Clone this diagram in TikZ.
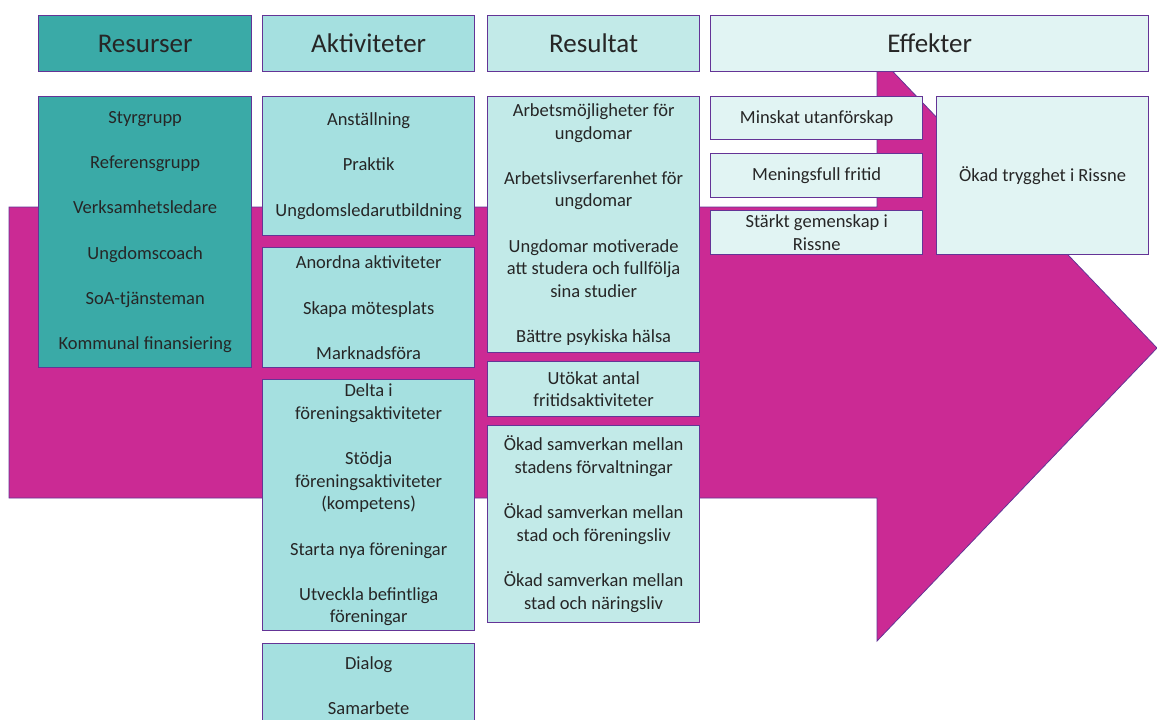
\documentclass[tikz,border=0pt]{standalone}
\usepackage{fontspec}
\setmainfont{Carlito}
\definecolor{bord}{RGB}{100,52,150}
\definecolor{magentaA}{RGB}{203,42,148}
\definecolor{tealA}{RGB}{58,170,167}
\definecolor{tealB}{RGB}{165,224,224}
\definecolor{tealC}{RGB}{194,234,232}
\definecolor{tealD}{RGB}{225,244,243}
\definecolor{txt}{RGB}{38,38,38}
\tikzset{
  box/.style={draw=bord, line width=1.3pt, align=center, inner sep=0pt, text=txt,
    anchor=north west, font=\fontsize{18.5}{22.6}\selectfont},
  head/.style={box, font=\fontsize{27}{32}\selectfont},
}
\newcommand{\gap}{\\[22.6pt]}
\begin{document}
\begin{tikzpicture}[x=1pt,y=-1pt]
\useasboundingbox (0,0) rectangle (1157,720);
\clip (0,0) rectangle (1157,720);
% big arrow
\filldraw[fill=magentaA, draw=bord, line width=0.8pt]
  (9,207) -- (877,207) -- (877,55) -- (1157,348) -- (877,641) -- (877,498) -- (9,498) -- cycle;
% headers
\node[head, fill=tealA, minimum width=213pt, minimum height=56pt] (hres) at (38,15) {Resurser};
\node[head, fill=tealB, minimum width=212pt, minimum height=56pt] (hakt) at (262,15) {Aktiviteter};
\node[head, fill=tealC, minimum width=212pt, minimum height=56pt] (hresu) at (487,15) {Resultat};
\node[head, fill=tealD, minimum width=438pt, minimum height=56pt] (heff) at (710,15) {Effekter};
% Resurser
\node[box, fill=tealA, minimum width=213pt, minimum height=271pt] (res) at (38,96)
  {Styrgrupp\gap Referensgrupp\gap Verksamhetsledare\gap Ungdomscoach\gap SoA-tjänsteman\gap Kommunal finansiering};
% Aktiviteter
\node[box, fill=tealB, minimum width=212pt, minimum height=139pt] (akt1) at (262,96)
  {Anställning\gap Praktik\gap Ungdomsledarutbildning};
\node[box, fill=tealB, minimum width=212pt, minimum height=120pt] (akt2) at (262,247)
  {Anordna aktiviteter\gap Skapa mötesplats\gap Marknadsföra};
\node[box, fill=tealB, minimum width=212pt, minimum height=251pt] (akt3) at (262,379)
  {Delta i\\ föreningsaktiviteter\gap Stödja\\ föreningsaktiviteter\\ (kompetens)\gap Starta nya föreningar\gap Utveckla befintliga\\ föreningar};
\node[box, fill=tealB, minimum width=212pt, minimum height=84pt] (akt4) at (262,643)
  {Dialog\gap Samarbete};
% Resultat
\node[box, fill=tealC, minimum width=212pt, minimum height=256pt] (rs1) at (487,96)
  {Arbetsmöjligheter för\\ ungdomar\gap Arbetslivserfarenhet för\\ ungdomar\gap Ungdomar motiverade\\ att studera och fullfölja\\ sina studier\gap Bättre psykiska hälsa};
\node[box, fill=tealC, minimum width=212pt, minimum height=55pt] (rs2) at (487,361)
  {Utökat antal\\ fritidsaktiviteter};
\node[box, fill=tealC, minimum width=212pt, minimum height=197pt] (rs3) at (487,425)
  {Ökad samverkan mellan\\ stadens förvaltningar\gap Ökad samverkan mellan\\ stad och föreningsliv\gap Ökad samverkan mellan\\ stad och näringsliv};
% Effekter
\node[box, fill=tealD, minimum width=212pt, minimum height=43pt] (ef1) at (710,96) {Minskat utanförskap};
\node[box, fill=tealD, minimum width=212pt, minimum height=44pt] (ef2) at (710,153) {Meningsfull fritid};
\node[box, fill=tealD, minimum width=212pt, minimum height=44pt] (ef3) at (710,210) {Stärkt gemenskap i\\ Rissne};
\node[box, fill=tealD, minimum width=212pt, minimum height=158pt] (ef4) at (936,96) {Ökad trygghet i Rissne};
\end{tikzpicture}
\end{document}
